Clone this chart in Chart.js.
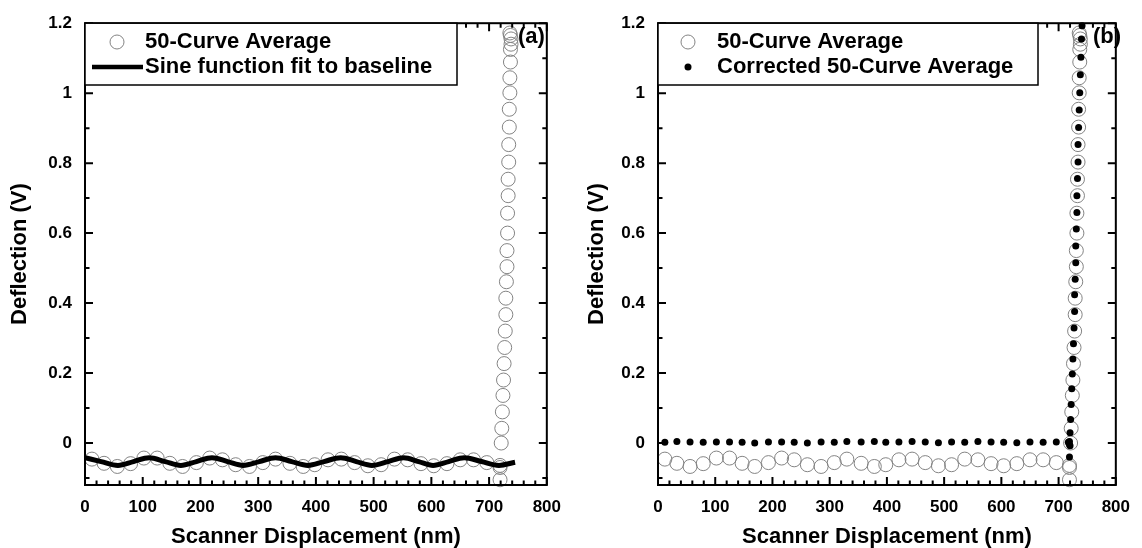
<!DOCTYPE html>
<html>
<head>
<meta charset="utf-8">
<script src="https://cdn.jsdelivr.net/npm/chart.js@4/dist/chart.umd.min.js"></script>
<style>
  html, body { margin: 0; padding: 0; background: #fff; }
  #wrap { position: relative; width: 1142px; height: 548px; }
  canvas { position: absolute; top: 0; }
</style>
</head>
<body>
<div id="wrap">
  <canvas id="chartA" width="573" height="548" style="left:0;width:573px;height:548px"></canvas>
  <canvas id="chartB" width="569" height="548" style="left:573px;width:569px;height:548px"></canvas>
</div>
<script>
// 50-curve average (hollow circles), same in both panels
const avgX = [12, 33, 56, 79, 102, 125, 147, 169, 193, 216, 238, 261, 285, 308, 330,
  355, 378, 398, 421, 444, 467, 490, 513, 536, 559, 582, 604, 627, 650, 673, 696,
  719, 719, 719, 721, 722, 723, 724, 725, 726, 727, 728, 729, 729, 730, 731, 731,
  732, 732, 733, 733, 734, 734, 735, 735, 736, 736, 737, 737, 738, 738, 737, 736];
const avgY = [-0.046, -0.058, -0.067, -0.059, -0.043, -0.043, -0.058, -0.067, -0.056, -0.043, -0.048, -0.062, -0.067, -0.056, -0.046,
  -0.058, -0.067, -0.062, -0.048, -0.046, -0.056, -0.065, -0.062, -0.046, -0.048, -0.059, -0.065, -0.059, -0.048, -0.048, -0.056,
  -0.105, -0.070, -0.064, 0.000, 0.042, 0.089, 0.136, 0.180, 0.227, 0.273, 0.320, 0.367, 0.414, 0.461, 0.504, 0.550,
  0.600, 0.657, 0.707, 0.754, 0.803, 0.853, 0.903, 0.954, 1.001, 1.044, 1.089, 1.125, 1.140, 1.155, 1.165, 1.172];

// sine fit to baseline (panel a), read at peaks, troughs and midpoints
const fitX = [0, 28, 57, 84, 111, 139, 166, 193, 220, 247, 274, 302, 330, 358,
  386, 414, 443, 470, 497, 525, 552, 578, 603, 630, 657, 687, 717, 745];
const fitY = [-0.042, -0.053, -0.064, -0.053, -0.042, -0.053, -0.064, -0.053, -0.042, -0.053, -0.064, -0.053, -0.042, -0.053,
  -0.064, -0.053, -0.042, -0.053, -0.064, -0.053, -0.042, -0.053, -0.064, -0.053, -0.042, -0.053, -0.064, -0.055];

// corrected 50-curve average (filled dots, panel b)
const corrX = [12, 33, 56, 79, 102, 125, 147, 169, 193, 216, 238, 261, 285, 308, 330,
  355, 378, 398, 421, 444, 467, 490, 513, 536, 559, 582, 604, 627, 650, 673, 696,
  717, 719, 719, 719, 720, 720, 721, 722, 723, 724, 725, 726, 727, 728, 728, 729,
  730, 730, 731, 732, 732, 733, 734, 734, 735, 736, 737, 738, 739, 740, 741];
const corrY = [0.002, 0.004, 0.003, 0.002, 0.003, 0.003, 0.002, 0.000, 0.003, 0.003, 0.002, 0.000, 0.003, 0.002, 0.004,
  0.003, 0.004, 0.002, 0.003, 0.004, 0.003, 0.001, 0.003, 0.002, 0.004, 0.003, 0.002, 0.001, 0.003, 0.002, 0.003,
  0.002, -0.004, 0.004, -0.040, -0.008, 0.029, 0.067, 0.110, 0.155, 0.197, 0.240, 0.284, 0.329, 0.376, 0.424, 0.468,
  0.515, 0.563, 0.612, 0.659, 0.707, 0.756, 0.803, 0.853, 0.902, 0.952, 1.001, 1.053, 1.103, 1.155, 1.193];

const xTicks = [0, 100, 200, 300, 400, 500, 600, 700, 800];
const yTicks = [0, 0.2, 0.4, 0.6, 0.8, 1, 1.2];

const FONT = '"Liberation Sans", Arial, sans-serif';
const circleColor = 'rgba(125,125,125,0.95)';

const pts = (xs, ys) => xs.map((x, i) => ({ x: x, y: ys[i] }));

// frame, inward ticks on all sides, legend box, panel letter
const decor = {
  id: 'decor',
  afterDatasetsDraw(chart, args, o) {
    const { ctx, chartArea: a, scales: { x, y } } = chart;
    ctx.save();
    ctx.strokeStyle = '#000';
    ctx.lineWidth = 2;
    ctx.beginPath();
    for (let v = 0; v <= 800; v += 20) {
      const px = x.getPixelForValue(v);
      const len = v % 100 === 0 ? 8 : 4.5;
      ctx.moveTo(px, a.bottom); ctx.lineTo(px, a.bottom - len);
      ctx.moveTo(px, a.top); ctx.lineTo(px, a.top + len);
    }
    for (let i = -1; i <= 12; i++) {
      const py = y.getPixelForValue(i / 10);
      const len = i % 2 === 0 ? 8 : 4.5;
      ctx.moveTo(a.left, py); ctx.lineTo(a.left + len, py);
      ctx.moveTo(a.right, py); ctx.lineTo(a.right - len, py);
    }
    ctx.stroke();
    ctx.strokeRect(a.left, a.top, a.right - a.left, a.bottom - a.top);

    // legend
    ctx.fillStyle = '#fff';
    ctx.fillRect(a.left, a.top, o.boxRight - a.left, o.boxBottom - a.top);
    ctx.lineWidth = 1.5;
    ctx.strokeRect(a.left, a.top, o.boxRight - a.left, o.boxBottom - a.top);
    ctx.font = 'bold 22px ' + FONT;
    ctx.textBaseline = 'middle';
    ctx.textAlign = 'left';
    o.items.forEach((it, i) => {
      const cy = 42 + i * 25;
      ctx.fillStyle = '#000';
      ctx.fillText(it.text, o.textX, cy);
      if (it.kind === 'circle') {
        ctx.strokeStyle = circleColor;
        ctx.lineWidth = 1;
        ctx.beginPath(); ctx.arc(o.markX, cy, 7, 0, Math.PI * 2); ctx.stroke();
      } else if (it.kind === 'dot') {
        ctx.beginPath(); ctx.arc(o.markX, cy, 3.5, 0, Math.PI * 2); ctx.fill();
      } else {
        ctx.strokeStyle = '#000';
        ctx.lineWidth = 4.5;
        ctx.beginPath(); ctx.moveTo(o.markX - 25, cy); ctx.lineTo(o.textX - 2, cy); ctx.stroke();
      }
    });
    ctx.fillStyle = '#000';
    ctx.fillText(o.letter, o.letterX, 37);
    ctx.restore();
  }
};

function makeOptions(p) {
  return {
    responsive: false,
    animation: false,
    layout: { padding: { top: 19, right: p.padRight, bottom: 0, left: 0 } },
    plugins: {
      legend: { display: false },
      tooltip: { enabled: false },
      decor: p.decor
    },
    scales: {
      x: {
        type: 'linear', min: 0, max: 800,
        afterFit: s => { s.height = 63; },
        afterBuildTicks: s => { s.ticks = xTicks.map(v => ({ value: v })); },
        grid: { display: false, drawTicks: false },
        border: { display: false },
        ticks: { color: '#000', padding: 12, maxRotation: 0, autoSkip: false,
                 font: { family: FONT, size: 17, weight: 'bold' } },
        title: { display: true, text: 'Scanner Displacement (nm)', color: '#000',
                 padding: 0, font: { family: FONT, size: 22, weight: 'bold', lineHeight: 1 } }
      },
      y: {
        type: 'linear', min: -0.12, max: 1.2,
        afterFit: s => { s.width = 85; },
        afterBuildTicks: s => { s.ticks = yTicks.map(v => ({ value: v })); },
        grid: { display: false, drawTicks: false },
        border: { display: false },
        ticks: { color: '#000', padding: 13,
                 callback: v => String(+v.toFixed(1)),
                 font: { family: FONT, size: 17, weight: 'bold' } },
        title: { display: true, text: 'Deflection (V)', color: '#000',
                 padding: { top: p.yTitlePad, bottom: 0 },
                 font: { family: FONT, size: 22, weight: 'bold', lineHeight: 1 } }
      }
    }
  };
}

const avgDataset = {
  label: '50-Curve Average',
  data: pts(avgX, avgY),
  showLine: false,
  pointRadius: 7,
  pointBorderWidth: 1,
  pointBorderColor: circleColor,
  pointBackgroundColor: 'rgba(0,0,0,0)',
  clip: false,
  order: 2
};

new Chart(document.getElementById('chartA'), {
  type: 'scatter',
  data: {
    datasets: [
      avgDataset,
      {
        label: 'Sine function fit to baseline',
        data: pts(fitX, fitY),
        showLine: true,
        borderColor: '#000',
        borderWidth: 5,
        pointRadius: 0,
        cubicInterpolationMode: 'monotone',
        order: 1
      }
    ]
  },
  options: makeOptions({
    padRight: 22, yTitlePad: 9,
    decor: {
      boxRight: 457, boxBottom: 85, markX: 117, textX: 145,
      letter: '(a)', letterX: 518,
      items: [{ text: '50-Curve Average', kind: 'circle' },
              { text: 'Sine function fit to baseline', kind: 'line' }]
    }
  }),
  plugins: [decor]
});

new Chart(document.getElementById('chartB'), {
  type: 'scatter',
  data: {
    datasets: [
      Object.assign({}, avgDataset, { data: pts(avgX, avgY) }),
      {
        label: 'Corrected 50-Curve Average',
        data: pts(corrX, corrY),
        showLine: false,
        pointRadius: 3.5,
        pointBorderWidth: 0,
        pointBackgroundColor: '#000',
        clip: false,
        order: 1
      }
    ]
  },
  options: makeOptions({
    padRight: 18, yTitlePad: 13,
    decor: {
      boxRight: 465, boxBottom: 85, markX: 115, textX: 144,
      letter: '(b)', letterX: 520,
      items: [{ text: '50-Curve Average', kind: 'circle' },
              { text: 'Corrected 50-Curve Average', kind: 'dot' }]
    }
  }),
  plugins: [decor]
});
</script>
</body>
</html>
